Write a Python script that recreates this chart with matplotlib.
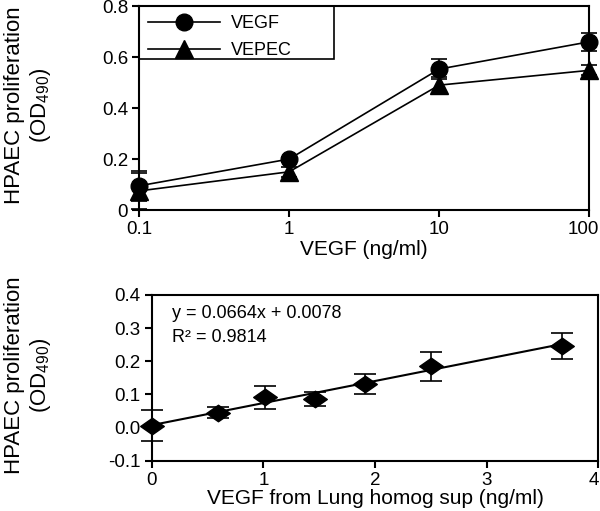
import numpy as np
import matplotlib
matplotlib.use("Agg")
import matplotlib.pyplot as plt
from matplotlib.patches import Rectangle
from matplotlib.path import Path
from matplotlib.transforms import ScaledTranslation

plt.rcParams['font.family'] = ['Liberation Sans', 'DejaVu Sans']
plt.rcParams['mathtext.fontset'] = 'custom'
plt.rcParams['mathtext.rm'] = 'Liberation Sans'
plt.rcParams['mathtext.default'] = 'regular'

# top panel: dose response
dose = [0.1, 1, 10, 100]
vegf = [0.095, 0.20, 0.553, 0.66]
vegf_err = [0.06, 0.01, 0.04, 0.035]
vepec = [0.075, 0.15, 0.49, 0.548]
vepec_err = [0.07, 0.02, 0.03, 0.02]

# bottom panel: lung homogenate supernatant
lung_x = [0.0, 0.59, 1.01, 1.46, 1.91, 2.50, 3.68]
lung_y = [0.006, 0.045, 0.091, 0.086, 0.131, 0.185, 0.245]
lung_err = [0.047, 0.016, 0.035, 0.022, 0.03, 0.043, 0.039]
slope, intercept, r2 = 0.0664, 0.0078, 0.9814

ylab = "HPAEC proliferation\n(OD$_{490}$)"

fig = plt.figure(figsize=(6, 5.11), dpi=100)
ax1 = fig.add_axes([0.232, 0.589, 0.750, 0.399])
ax2 = fig.add_axes([0.253, 0.098, 0.744, 0.325])

# ---- top
ax1.set_xscale('log')
ax1.errorbar(dose, vegf, yerr=vegf_err, color='black', lw=1.2, marker='o', ms=12,
             capsize=6, capthick=1.2, elinewidth=1.2, clip_on=False, label='VEGF', zorder=3)
ax1.errorbar(dose, vepec, yerr=vepec_err, color='black', lw=1.2, marker='^', ms=13,
             capsize=6, capthick=1.2, elinewidth=1.2, clip_on=False, label='VEPEC', zorder=3)
ax1.set_xlim(0.1, 100)
ax1.set_ylim(0, 0.8)
ax1.set_xticks(dose)
ax1.set_xticklabels(['0.1', '1', '10', '100'])
ax1.xaxis.set_minor_locator(matplotlib.ticker.NullLocator())
ax1.set_yticks([0, 0.2, 0.4, 0.6, 0.8])
ax1.set_yticklabels(['0', '0.2', '0.4', '0.6', '0.8'])
ax1.set_xlabel('VEGF (ng/ml)', fontsize=15, labelpad=1)

handles, labels = ax1.get_legend_handles_labels()
handles = [h[0] for h in handles]
ax1.legend(handles, labels, loc='upper left', bbox_to_anchor=(0, 1), frameon=False,
           fontsize=13, handlelength=4, handletextpad=0.6, labelspacing=0.55,
           borderaxespad=0.1, borderpad=0.4)
ax1.add_patch(Rectangle((0, 0.739), 0.433, 0.261, transform=ax1.transAxes,
                        fill=False, ec='black', lw=1.2, zorder=4))

# ---- bottom
diamond = Path([(-1, 0), (0, 0.7), (1, 0), (0, -0.7), (-1, 0)],
               [Path.MOVETO, Path.LINETO, Path.LINETO, Path.LINETO, Path.CLOSEPOLY])
ax2.errorbar(lung_x, lung_y, yerr=lung_err, color='black', ls='none', marker=diamond,
             ms=17, capsize=8, capthick=1.2, elinewidth=1.2, clip_on=False, zorder=3)
fit_x = np.array([0, max(lung_x)])
ax2.plot(fit_x, slope * fit_x + intercept, color='black', lw=1.5, zorder=2)
ax2.set_xlim(0, 4)
ax2.set_ylim(-0.1, 0.4)
ax2.set_xticks([0, 1, 2, 3, 4])
ax2.set_yticks([-0.1, 0, 0.1, 0.2, 0.3, 0.4])
ax2.set_yticklabels(['-0.1', '0.0', '0.1', '0.2', '0.3', '0.4'])
ax2.set_xlabel('VEGF from Lung homog sup (ng/ml)', fontsize=15, labelpad=0)
ax2.text(0.045, 0.89, f'y = {slope}x + {intercept}', transform=ax2.transAxes,
         fontsize=13, va='center', ha='left')
ax2.text(0.045, 0.745, f'R² = {r2}', transform=ax2.transAxes,
         fontsize=13, va='center', ha='left')

for yc in (0.795, 0.266):
    fig.text(0.047, yc, ylab, rotation=90, ha='center', va='center',
             multialignment='center', fontsize=16, linespacing=1.15)

for ax in (ax1, ax2):
    for s in ax.spines.values():
        s.set_linewidth(1.5)
    ax.tick_params(direction='out', length=5, width=1.5, labelsize=13.5, pad=3)

# nudge the right-most x labels so they stay inside the figure
for ax, dx in ((ax1, -6), (ax2, -4)):
    last = ax.get_xticklabels()[-1]
    last.set_transform(last.get_transform() + ScaledTranslation(dx / 100, 0, fig.dpi_scale_trans))

fig.savefig('out.png', dpi=100)
